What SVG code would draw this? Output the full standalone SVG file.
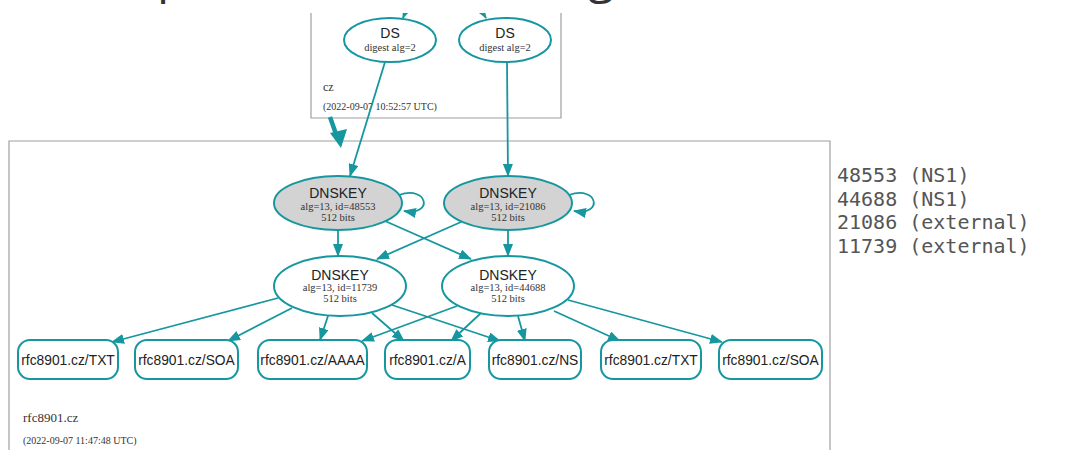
<svg xmlns="http://www.w3.org/2000/svg" width="1090" height="450" viewBox="0 0 1090 450">
<style>
.cl{fill:none;stroke:#a0a0a0;stroke-width:1.2}
.el{fill:#fff;stroke:#16979f;stroke-width:2}
.ks{fill:#d3d3d3;stroke:#16979f;stroke-width:2}
.bx{fill:#fff;stroke:#16979f;stroke-width:2}
.ed{fill:none;stroke:#16979f;stroke-width:1.8;marker-end:url(#ah)}
.t1{font-family:"Liberation Sans",Arial,sans-serif;font-size:14px;fill:#222;text-anchor:middle}
.t2{font-family:"Liberation Serif","Times New Roman",serif;font-size:10.5px;fill:#333;text-anchor:middle}
.lb{font-family:"Liberation Sans",Arial,sans-serif;font-size:13.8px;fill:#222;text-anchor:middle}
.zl{font-family:"Liberation Serif","Times New Roman",serif;fill:#333}
.mono{font-family:"DejaVu Sans Mono",monospace;font-size:20px;fill:#555}
.ttl{font-family:"Open Sans",sans-serif;font-size:48px;fill:#333}
</style>
<defs>
<marker id="ah" markerUnits="userSpaceOnUse" markerWidth="13" markerHeight="10" viewBox="0 0 13 10" refX="12" refY="5" orient="auto">
<path d="M0,0 L13,5 L0,10 Z" fill="#16979f"/>
</marker>
</defs>
<rect width="1090" height="450" fill="#fff"/>

<!-- clusters -->
<g id="cluster-cz">
<path class="cl" d="M311,13 V118 H561 V13"/>
<text class="zl" x="323" y="91" font-size="12">cz</text>
<text class="zl" x="323" y="110" font-size="10">(2022-09-07 10:52:57 UTC)</text>
</g>
<g id="cluster-rfc8901">
<path class="cl" d="M9,452 V141 H830 V452"/>
<text class="zl" x="23" y="422" font-size="13">rfc8901.cz</text>
<text class="zl" x="23" y="444" font-size="10">(2022-09-07 11:47:48 UTC)</text>
</g>

<!-- connectors -->
<g id="connectors">
<path class="ed" d="M412,-5 L403,18"/>
<path class="ed" d="M472,-5 L486,18"/>
<path d="M330,117 L336,134" stroke="#16979f" stroke-width="4.5" fill="none"/>
<path d="M330,133 L347,129 L341,148 Z" fill="#16979f"/>
<path class="ed" d="M385,62 L350,176"/>
<path class="ed" d="M507,62 L508,176"/>
<path class="ed" d="M399,195 C428,185 434,216 404,211"/>
<path class="ed" d="M569,195 C598,185 604,216 574,211"/>
<path class="ed" d="M338,230 L338,256"/>
<path class="ed" d="M385,221 L471,259"/>
<path class="ed" d="M461,222 L377,259"/>
<path class="ed" d="M508,230 L508,256"/>
<path class="ed" d="M278,298 L112,342"/>
<path class="ed" d="M292,308 L228,341"/>
<path class="ed" d="M328,316 L320,340"/>
<path class="ed" d="M372,313 L404,341"/>
<path class="ed" d="M392,305 L500,341"/>
<path class="ed" d="M457,306 L362,341"/>
<path class="ed" d="M481,313 L451,341"/>
<path class="ed" d="M518,316 L525,341"/>
<path class="ed" d="M554,311 L620,341"/>
<path class="ed" d="M568,300 L722,342"/>
</g>

<!-- nodes -->
<g id="ds1"><ellipse class="el" cx="390" cy="40" rx="46" ry="22"/><text class="t1" x="390" y="38">DS</text><text class="t2" x="390" y="51">digest alg=2</text></g>
<g id="ds2"><ellipse class="el" cx="505" cy="40" rx="46" ry="22"/><text class="t1" x="505" y="38">DS</text><text class="t2" x="505" y="51">digest alg=2</text></g>

<g id="dnskey-48553"><ellipse class="ks" cx="338" cy="203" rx="64" ry="27"/><text class="t1" x="338" y="198">DNSKEY</text><text class="t2" x="338" y="210">alg=13, id=48553</text><text class="t2" x="338" y="221">512 bits</text></g>
<g id="dnskey-21086"><ellipse class="ks" cx="508" cy="203" rx="64" ry="27"/><text class="t1" x="508" y="198">DNSKEY</text><text class="t2" x="508" y="210">alg=13, id=21086</text><text class="t2" x="508" y="221">512 bits</text></g>
<g id="dnskey-11739"><ellipse class="el" cx="340" cy="286" rx="66" ry="30"/><text class="t1" x="340" y="280">DNSKEY</text><text class="t2" x="340" y="291">alg=13, id=11739</text><text class="t2" x="340" y="302">512 bits</text></g>
<g id="dnskey-44688"><ellipse class="el" cx="508" cy="286" rx="66" ry="30"/><text class="t1" x="508" y="280">DNSKEY</text><text class="t2" x="508" y="291">alg=13, id=44688</text><text class="t2" x="508" y="302">512 bits</text></g>

<g id="rr-txt1"><rect class="bx" x="18" y="340" width="100" height="39" rx="12"/><text class="lb" x="68" y="364.5">rfc8901.cz/TXT</text></g>
<g id="rr-soa1"><rect class="bx" x="135" y="340" width="103" height="39" rx="12"/><text class="lb" x="186.5" y="364.5">rfc8901.cz/SOA</text></g>
<g id="rr-aaaa"><rect class="bx" x="258" y="340" width="109" height="39" rx="12"/><text class="lb" x="312.5" y="364.5">rfc8901.cz/AAAA</text></g>
<g id="rr-a"><rect class="bx" x="385" y="340" width="85" height="39" rx="12"/><text class="lb" x="427.5" y="364.5">rfc8901.cz/A</text></g>
<g id="rr-ns"><rect class="bx" x="489" y="340" width="92" height="39" rx="12"/><text class="lb" x="535" y="364.5">rfc8901.cz/NS</text></g>
<g id="rr-txt2"><rect class="bx" x="601" y="340" width="100" height="39" rx="12"/><text class="lb" x="651" y="364.5">rfc8901.cz/TXT</text></g>
<g id="rr-soa2"><rect class="bx" x="719" y="340" width="103" height="39" rx="12"/><text class="lb" x="770.5" y="364.5">rfc8901.cz/SOA</text></g>

<!-- top cover and cut-off title -->
<rect x="0" y="0" width="1090" height="13" fill="#fff"/>
<text class="ttl" x="157" y="-7">p</text>
<text class="ttl" x="588" y="-7">g</text>

<g id="keylist">
<text class="mono" x="837" y="182">48553 (NS1)</text>
<text class="mono" x="837" y="205.5">44688 (NS1)</text>
<text class="mono" x="837" y="229">21086 (external)</text>
<text class="mono" x="837" y="252.5">11739 (external)</text>
</g>
</svg>
